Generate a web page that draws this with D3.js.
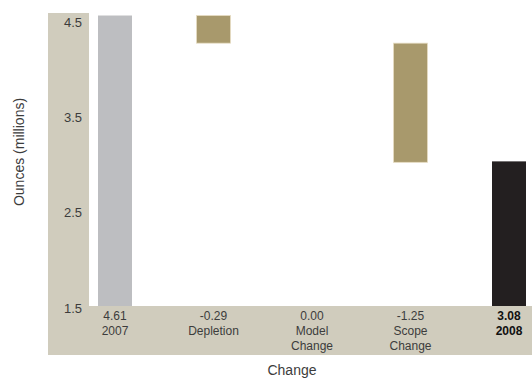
<!DOCTYPE html>
<html>
<head>
<meta charset="utf-8">
<script src="https://cdn.jsdelivr.net/npm/d3@7"></script>
<style>
  body { margin: 0; background: #fff; }
  text { font-family: "Liberation Sans", Arial, sans-serif; }
</style>
</head>
<body>
<div id="chart"></div>
<script>
// Waterfall of ounces (millions), 2007 -> 2008
const categories = [['2007'], ['Depletion'], ['Model', 'Change'], ['Scope', 'Change'], ['2008']];
const changes = [4.61, -0.29, 0.00, -1.25, 3.08];
const kinds = ['total', 'delta', 'delta', 'delta', 'total'];
const yTicks = [1.5, 2.5, 3.5, 4.5];

const W = 532, H = 381;
const plot = { left: 89, right: 532, top: 13, bottom: 306 };

const svg = d3.select('#chart').append('svg')
    .attr('width', W)
    .attr('height', H);

// Build waterfall segments
let running = 0;
const bars = changes.map((v, i) => {
    let lo, hi;
    if (kinds[i] === 'total') {
        lo = 1.5; hi = v; running = v;
    } else {
        const start = running;
        running = +(running + v).toFixed(2);
        lo = Math.min(start, running); hi = Math.max(start, running);
    }
    return { i, value: v, lo, hi, kind: kinds[i] };
});

const xScale = d3.scalePoint().domain(d3.range(categories.length)).range([115, 509]);
const yScale = d3.scaleLinear().domain([1.5, 4.5]).range([312, 26]);
const barW = 34;

const colors = ['#bdbec1', '#a8996c', '#a8996c', '#a8996c', '#231f20'];

// Beige panels
svg.append('rect')
    .attr('x', 48).attr('y', plot.top)
    .attr('width', plot.left - 48).attr('height', plot.bottom - plot.top)
    .attr('fill', '#d0ccbd');
svg.append('rect')
    .attr('x', 48).attr('y', plot.bottom)
    .attr('width', W - 48).attr('height', 355 - plot.bottom)
    .attr('fill', '#d0ccbd');

svg.append('defs').append('clipPath').attr('id', 'clip')
    .append('rect')
    .attr('x', plot.left).attr('y', plot.top)
    .attr('width', plot.right - plot.left).attr('height', plot.bottom - plot.top);

svg.append('g').attr('clip-path', 'url(#clip)')
    .selectAll('rect')
    .data(bars.filter(d => d.hi - d.lo > 0))
    .enter().append('rect')
    .attr('x', d => xScale(d.i) - barW / 2)
    .attr('width', barW)
    .attr('y', d => yScale(d.hi))
    .attr('height', d => yScale(d.lo) - yScale(d.hi))
    .attr('fill', d => colors[d.i])
    .attr('stroke', d => d.kind === 'delta' ? '#e6dcc2' : 'none')
    .attr('stroke-width', 0.8);

// Y axis (labels only)
const yAxis = svg.append('g')
    .attr('transform', 'translate(82,0)')
    .call(d3.axisLeft(yScale).tickValues(yTicks).tickFormat(d3.format('.1f')).tickSize(0).tickPadding(0));
yAxis.select('.domain').remove();
yAxis.selectAll('text')
    .attr('dy', 0)
    .attr('font-size', 13)
    .attr('fill', '#3c3c3c')
    .style('font-family', '"Liberation Sans", Arial, sans-serif');

// Category labels with values
const labels = svg.append('g').selectAll('text')
    .data(bars)
    .enter().append('text')
    .attr('x', d => xScale(d.i))
    .attr('y', 320)
    .attr('text-anchor', 'middle')
    .attr('font-size', 12)
    .attr('fill', d => d.kind === 'total' && d.i > 0 ? '#111' : '#3c3c3c')
    .attr('font-weight', d => d.kind === 'total' && d.i > 0 ? 'bold' : 'normal');

labels.append('tspan')
    .attr('x', d => xScale(d.i))
    .text(d => d.value.toFixed(2));
labels.each(function(d) {
    categories[d.i].forEach(line => {
        d3.select(this).append('tspan')
            .attr('x', xScale(d.i))
            .attr('dy', 15)
            .text(line);
    });
});

// Axis titles
svg.append('text')
    .attr('transform', 'translate(24,152) rotate(-90)')
    .attr('text-anchor', 'middle')
    .attr('font-size', 14)
    .attr('fill', '#3c3c3c')
    .text('Ounces (millions)');

svg.append('text')
    .attr('x', 292).attr('y', 375)
    .attr('text-anchor', 'middle')
    .attr('font-size', 14)
    .attr('fill', '#3c3c3c')
    .text('Change');
</script>
</body>
</html>
